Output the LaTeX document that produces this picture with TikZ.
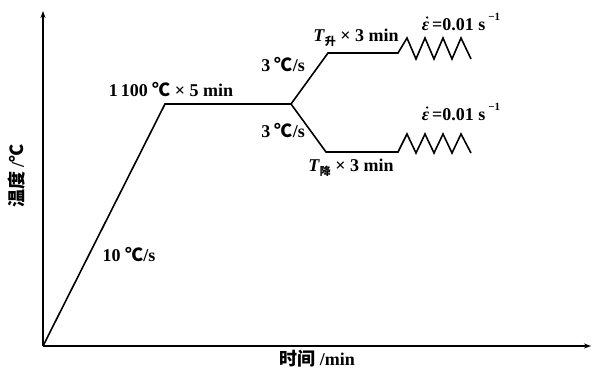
\documentclass[tikz,border=0pt]{standalone}
\usepackage{fontspec}
\setmainfont{Liberation Serif}
\newfontfamily\cjk{Noto Sans CJK SC}
\usetikzlibrary{arrows.meta}

\begin{document}
\begin{tikzpicture}[x=1pt, y=-1pt,
  curve/.style={line width=1.6pt, line join=miter},
  lbl/.style={font=\fontsize{18}{20}\selectfont\bfseries, inner sep=0pt},
  epsdot/.style={fill, radius=1.3pt}]
  \useasboundingbox (0,0) rectangle (593,380);
  % eixos
  \coordinate (o) at (43,346);
  \draw[line width=1.6pt, -{Stealth[length=7pt, width=5pt]}] (o) -- (591,346) coordinate (xend);
  \draw[line width=1.6pt, -{Stealth[length=7pt, width=5pt]}] (o) -- (43,11) coordinate (yend);
  % curva: aquecimento, patamar e bifurcacao
  \coordinate (p1) at (165,104);
  \coordinate (p2) at (291,104);
  \coordinate (u1) at (328,53);
  \coordinate (u2) at (398,53);
  \coordinate (d1) at (326,152);
  \coordinate (d2) at (398,152);
  \draw[curve] (o) -- (p1) -- (p2) -- (u1) -- (u2)
    -- ++(9,-15) -- ++(9,21) -- ++(9,-21) -- ++(9,21) -- ++(9,-21)
    -- ++(9,21) -- ++(9,-21) -- ++(10,21);
  \draw[curve] (p2) -- (d1) -- (d2)
    -- ++(9,-18) -- ++(9,19) -- ++(9,-19) -- ++(9,19) -- ++(9,-19)
    -- ++(9,19) -- ++(9,-19) -- ++(10,19);
  % r\'otulos
  \node[lbl] (hold) at (171,90) {1\,100 {\cjk ℃} × 5 min};
  \node[lbl] (heat) at (129,255) {10 {\cjk ℃}/s};
  \node[lbl] (rateup) at (283,65) {3 {\cjk ℃}/s};
  \node[lbl] (ratedn) at (283,131) {3 {\cjk ℃}/s};
  \node[lbl] (tup) at (356,38) {\textit{T}\raisebox{-4pt}{\fontsize{11}{11}\selectfont\cjk 升} × 3 min};
  \node[lbl] (tdn) at (351,168) {\textit{T}\raisebox{-4pt}{\fontsize{11}{11}\selectfont\cjk 降} × 3 min};
  \node[lbl] (strup) at (461,22) {\textit{ε}\,=0.01 s\,\raisebox{0.55em}{\fontsize{11}{11}\selectfont −1}};
  \node[lbl] (strdn) at (461,112) {\textit{ε}\,=0.01 s\,\raisebox{0.55em}{\fontsize{11}{11}\selectfont −1}};
  \fill[epsdot] ([xshift=5.5pt, yshift=13pt]strup.base west) circle;
  \fill[epsdot] ([xshift=5.5pt, yshift=13pt]strdn.base west) circle;
  \node[lbl, rotate=90] (ylab) at (17,176) {{\cjk 温度} /{\cjk ℃}};
  \node[lbl] (xlab) at (317,359) {{\cjk 时间} /min};
\end{tikzpicture}
\end{document}
